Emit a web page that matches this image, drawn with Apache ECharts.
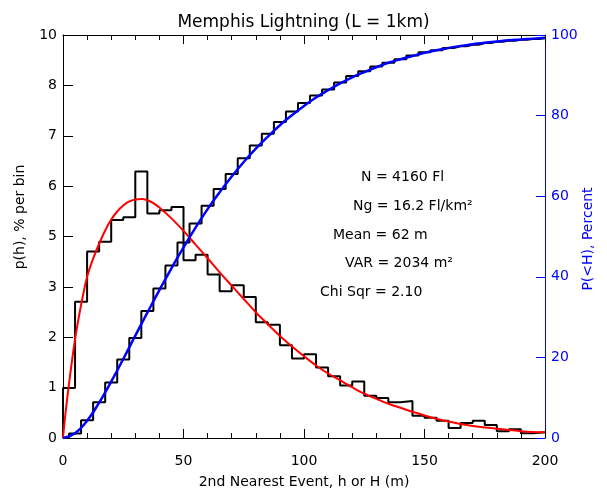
<!DOCTYPE html>
<html>
    <head>
        <title>Memphis Lightning</title>
        <meta charset="utf-8">
        <script src="https://cdn.jsdelivr.net/npm/echarts@6/dist/echarts.min.js"></script>
        <style>
            html, body { margin: 0; padding: 0; background: #fff; }
        </style>
    </head>

    <body>
        <div id="chart" style="width:607px; height:494px;"></div>

        <script>
            // bin edges (m), 5 m bins
            var hEdges = [0, 5, 10, 15, 20, 25, 30, 35, 40, 45, 50, 55, 60, 65, 70, 75, 80, 85, 90, 95,
                          100, 105, 110, 115, 120, 125, 130, 135, 140, 145, 150, 155, 160, 165, 170, 175, 180, 185, 190, 195, 200];
            // observed p(h), % per bin (one per bin)
            var pdfObs = [1.24, 3.38, 4.63, 4.87, 5.41, 5.48, 6.61, 5.57, 5.65, 5.73,
                          4.41, 4.55, 4.06, 3.64, 3.79, 3.50, 2.87, 2.81, 2.30, 1.97,
                          2.08, 1.75, 1.53, 1.30, 1.40, 1.05, 0.99, 0.89, 0.92, 0.55,
                          0.50, 0.43, 0.25, 0.37, 0.43, 0.32, 0.17, 0.22, 0.12, 0.14];
            // observed P(<H), percent, at each edge
            var cumObs = [0, 1.1, 4.4, 8.9, 13.8, 19.5, 24.8, 31.5, 37.1, 42.8, 48.5, 53.2, 57.6, 61.8, 65.5, 69.4,
                          72.6, 75.5, 78.4, 81.0, 83.1, 85.0, 86.5, 88.2, 89.8, 91.0, 92.2, 93.1, 94.0, 94.9, 95.7,
                          96.2, 96.8, 97.2, 97.6, 98.0, 98.3, 98.6, 98.8, 99.0, 99.2];
            // fitted model curves
            var modelH = [0, 1, 2.5, 5, 7.5, 10, 12.5, 15, 17.5, 20, 22.5, 25, 27.5, 30, 32.5, 35, 37.5, 40, 45, 50, 55, 60, 65, 70, 75, 80, 85, 90, 95,
                          100, 105, 110, 115, 120, 125, 130, 135, 140, 145, 150, 155, 160, 165, 170, 175, 180, 185, 190, 195, 200];
            var modelPdf = [0, 0.6, 1.35, 2.45, 3.3, 4.0, 4.45, 4.82, 5.15, 5.42, 5.62, 5.77, 5.87, 5.92, 5.93, 5.9, 5.83, 5.72,
                            5.45, 5.14, 4.8, 4.46, 4.11, 3.78, 3.45, 3.12, 2.82, 2.53, 2.27,
                            2.03, 1.8, 1.6, 1.43, 1.26, 1.1, 0.97, 0.85, 0.75, 0.65, 0.56, 0.48, 0.41, 0.35, 0.3, 0.26, 0.23, 0.2, 0.17, 0.15, 0.14];
            var modelCum = [0, 1.2, 4.3, 8.8, 14.0, 19.6, 25.4, 31.1, 36.7, 42.1, 47.3, 52.2, 56.8, 61.0, 64.9, 68.5,
                            71.8, 74.8, 77.6, 80.1, 82.4, 84.5, 86.3, 88.0, 89.5, 90.8, 92.0, 93.1, 94.0, 94.8, 95.6,
                            96.2, 96.8, 97.3, 97.7, 98.1, 98.4, 98.7, 98.9, 99.1, 99.3];
            // left tick labels (IDL truncates 1.25 steps)
            var leftTicks = ['0', '1', '2', '3', '5', '6', '7', '8', '10'];
            var statLines = ['N = 4160 Fl', 'Ng = 16.2 Fl/km²', 'Mean = 62 m', 'VAR = 2034 m²', 'Chi Sqr = 2.10'];

            var font = 'DejaVu Sans';
            var blue = '#0000ff';

            var histData = [[0, 0]];
            for (var i = 0; i < pdfObs.length; i++) histData.push([hEdges[i], pdfObs[i]]);
            histData.push([hEdges[hEdges.length - 1], pdfObs[pdfObs.length - 1]]);

            function pairs(xs, ys) {
                var out = [];
                for (var i = 0; i < xs.length; i++) out.push([xs[i], ys[i]]);
                return out;
            }

            var statX = [361, 353, 333, 345, 320];
            var statY = [178, 207, 236, 264, 293];
            var graphics = statLines.map(function (t, i) {
                return {type: 'text', left: statX[i], top: statY[i] - 8,
                        style: {text: t, font: '14px "' + font + '"', fill: '#000'}};
            });
            graphics.push({type: 'text', x: 20, y: 217, rotation: Math.PI / 2,
                           style: {text: 'p(h), % per bin', font: '14px "' + font + '"', fill: '#000',
                                   align: 'center', verticalAlign: 'middle'}});
            graphics.push({type: 'text', x: 588, y: 239, rotation: Math.PI / 2,
                           style: {text: 'P(<H), Percent', font: '14px "' + font + '"', fill: blue,
                                   align: 'center', verticalAlign: 'middle'}});

            var chart = echarts.init(document.getElementById('chart'), null, {renderer: 'canvas'});
            chart.setOption({
                animation: false,
                backgroundColor: '#fff',
                title: {
                    text: 'Memphis Lightning (L = 1km)', left: 'center', top: 9,
                    textStyle: {fontFamily: font, fontSize: 17, fontWeight: 'normal', color: '#000'}
                },
                grid: {left: 63, right: 62, top: 35, bottom: 51},
                xAxis: [{
                    type: 'value', min: 0, max: 200, interval: 50, position: 'bottom',
                    name: '2nd Nearest Event, h or H (m)', nameLocation: 'middle', nameGap: 37,
                    nameTextStyle: {fontFamily: font, fontSize: 14, color: '#000'},
                    axisLine: {onZero: false, lineStyle: {color: '#000', width: 1}},
                    axisTick: {inside: true, length: 9, lineStyle: {color: '#000'}},
                    minorTick: {show: true, splitNumber: 5, length: 5, lineStyle: {color: '#000'}},
                    axisLabel: {fontFamily: font, fontSize: 14, color: '#000', margin: 16},
                    splitLine: {show: false}
                }, {
                    type: 'value', min: 0, max: 200, interval: 50, position: 'top',
                    axisLine: {onZero: false, lineStyle: {color: '#000', width: 1}},
                    axisTick: {inside: true, length: 9, lineStyle: {color: '#000'}},
                    minorTick: {show: true, splitNumber: 5, length: 5, lineStyle: {color: '#000'}},
                    axisLabel: {show: false},
                    splitLine: {show: false}
                }],
                yAxis: [{
                    type: 'value', min: 0, max: 10, interval: 1.25, position: 'left',
                    axisLine: {show: true, onZero: false, lineStyle: {color: '#000', width: 1}},
                    axisTick: {show: true, inside: true, length: 10, lineStyle: {color: '#000'}},
                    axisLabel: {fontFamily: font, fontSize: 14, color: '#000', margin: 6,
                                formatter: function (v) { return leftTicks[Math.round(v / 1.25)]; }},
                    splitLine: {show: false}
                }, {
                    type: 'value', min: 0, max: 100, interval: 20, position: 'right',
                    axisLine: {show: true, onZero: false, lineStyle: {color: blue, width: 1}},
                    axisTick: {show: true, inside: true, length: 9, lineStyle: {color: blue}},
                    axisLabel: {fontFamily: font, fontSize: 14, color: blue, margin: 6},
                    splitLine: {show: false}
                }],
                graphic: graphics,
                series: [{
                    type: 'line', name: 'p(h)', xAxisIndex: 0, yAxisIndex: 0,
                    step: 'end', showSymbol: false, symbol: 'none',
                    lineStyle: {color: '#000', width: 2}, data: histData, z: 2
                }, {
                    type: 'line', name: 'P(<H)', xAxisIndex: 0, yAxisIndex: 1,
                    step: 'middle', showSymbol: false, symbol: 'none',
                    lineStyle: {color: '#000', width: 2}, data: pairs(hEdges, cumObs), z: 2
                }, {
                    type: 'line', name: 'model p', xAxisIndex: 0, yAxisIndex: 0,
                    smooth: 0.3, showSymbol: false, symbol: 'none',
                    lineStyle: {color: '#ff0000', width: 2}, data: pairs(modelH, modelPdf), z: 3
                }, {
                    type: 'line', name: 'model P', xAxisIndex: 0, yAxisIndex: 1,
                    smooth: true, showSymbol: false, symbol: 'none',
                    lineStyle: {color: blue, width: 2.5}, data: pairs(hEdges, modelCum), z: 3
                }]
            });
        </script>
    </body>
</html>
